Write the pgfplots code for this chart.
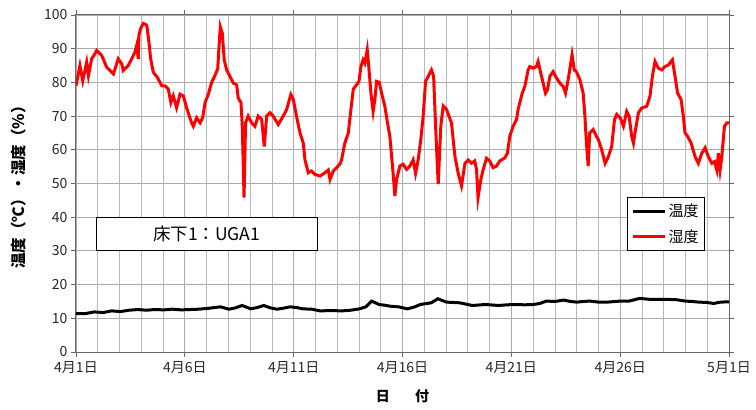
\documentclass[border=0pt]{standalone}
\usepackage{fontspec}
\setmainfont{Noto Sans CJK JP}
\usepackage{pgfplots}
\pgfplotsset{compat=1.18}
\begin{document}
\begin{tikzpicture}
\begin{axis}[
  name=ax,
  scale only axis, width=653pt, height=337pt,
  xmin=0, xmax=30, ymin=0, ymax=100,
  xtick={0,5,...,30},
  xticklabels={4月1日,4月6日,4月11日,4月16日,4月21日,4月26日,5月1日},
  minor xtick={0,1,...,30},
  ytick={0,10,...,100},
  grid=both,
  major grid style={gray!65, line width=0.9pt},
  minor grid style={gray!55, line width=0.7pt},
  axis line style={gray!80!black, line width=1pt},
  tick style={gray!80!black, line width=0.9pt},
  tick align=outside,
  major tick length=5pt, minor tick length=0pt,
  ticklabel style={font=\fontsize{14}{16}\selectfont, text=black!85},
  xticklabel style={yshift=-1pt},
  /pgf/number format/assume math mode=true,
  xlabel={日\hspace{1.8em}付},
  ylabel={温度（℃）・湿度（％）},
  every axis x label/.style={at={(rel axis cs:0.5,0)}, anchor=center, yshift=-44pt, font=\bfseries\fontsize{14}{16}\selectfont},
  every axis y label/.style={at={(rel axis cs:0,0.5)}, xshift=-57pt, rotate=90, anchor=center, font=\bfseries\fontsize{15.5}{17}\selectfont},
  legend style={at={(rel axis cs:0.844,0.46)}, anchor=north west, draw=black, line width=0.8pt,
    font=\fontsize{15}{17}\selectfont, row sep=7pt, inner xsep=4pt, inner ysep=5pt},
  legend cell align=left,
  legend image code/.code={\draw[#1, line width=3pt] (0pt,0pt) -- (32pt,0pt);},
]
% 温度
\addplot[black, line width=3pt] coordinates {
(0,11.4) (0.44,11.4) (0.84,11.9) (1.24,11.7) (1.64,12.2) (2.04,12.0) (2.44,12.4) (2.84,12.6) (3.23,12.4)
(3.63,12.6) (4.03,12.5) (4.43,12.7) (4.83,12.5) (5.23,12.6) (5.63,12.7) (6.13,13.0) (6.63,13.4) (7.03,12.7)
(7.33,13.1) (7.63,13.8) (8.03,12.8) (8.33,13.2) (8.63,13.8) (8.93,13.1) (9.23,12.7) (9.53,13.0) (9.83,13.4)
(10.13,13.2) (10.43,12.8) (10.83,12.7) (11.22,12.2) (11.72,12.3) (12.22,12.2) (12.62,12.4) (13.02,12.8)
(13.32,13.4) (13.58,15.1) (13.92,14.1) (14.17,13.9) (14.42,13.6) (14.82,13.4) (15.22,12.8) (15.52,13.3)
(15.82,14.1) (16.32,14.6) (16.62,15.8) (17.02,14.8) (17.32,14.7) (17.62,14.6) (17.92,14.2) (18.21,13.8)
(18.81,14.1) (19.41,13.8) (19.81,14.0) (20.21,14.1) (20.61,14.0) (21.01,14.1) (21.31,14.4) (21.61,15.1)
(22.01,15.0) (22.41,15.4) (22.71,15.0) (23.01,14.8) (23.31,15.0) (23.61,15.1) (24.01,14.8) (24.41,14.8)
(25.0,15.1) (25.4,15.1) (25.9,15.9) (26.4,15.6) (27.2,15.6) (27.6,15.5) (28.0,15.1) (28.3,15.0) (28.6,14.8)
(29.0,14.7) (29.3,14.4) (29.6,14.8) (30,14.9)
};
\addlegendentry{温度}
% 湿度
\addplot[red, line width=3pt] coordinates {
(0,79) (0.18,85) (0.31,80.5) (0.49,86) (0.57,82) (0.72,87) (0.87,88.5) (0.95,89.5) (1.18,88) (1.41,84.5)
(1.64,83) (1.72,82.5) (1.94,87) (2.10,85.5) (2.17,83.5) (2.40,85) (2.56,87) (2.71,89) (2.79,91) (2.86,87)
(2.89,94) (2.97,96) (3.09,97.5) (3.25,97) (3.35,92) (3.43,87) (3.55,83) (3.74,81.5) (3.94,79) (4.09,79)
(4.24,78) (4.36,74) (4.47,76) (4.62,72.5) (4.78,76.5) (4.93,76) (5.08,72.5) (5.31,68) (5.39,67) (5.54,69.5)
(5.70,68) (5.82,69.5) (5.93,74) (6.08,76.5) (6.23,80) (6.38,82) (6.51,84) (6.57,90.6) (6.63,96.5)
(6.72,94.6) (6.81,86.7) (6.92,83.7) (7.07,81.8) (7.23,79.8) (7.38,79.3) (7.45,75.4) (7.58,74) (7.64,67)
(7.72,45.8) (7.79,68) (7.91,70) (8.07,68) (8.22,67) (8.37,70) (8.53,69) (8.65,61) (8.76,70) (8.91,71)
(9.06,70) (9.29,67.5) (9.52,70) (9.68,72) (9.87,76.4) (9.98,75) (10.13,70) (10.29,65) (10.44,62)
(10.52,57) (10.67,53.2) (10.82,53.7) (10.98,52.7) (11.21,52.2) (11.44,53.2) (11.59,54) (11.67,51.2)
(11.82,53.7) (11.97,54.7) (12.13,55.8) (12.20,57) (12.35,62) (12.51,65) (12.63,72) (12.74,78) (12.89,79.3)
(13.0,80.3) (13.09,84.7) (13.19,86.7) (13.27,85.7) (13.38,89.7) (13.45,84.7) (13.55,76.8) (13.65,71.4)
(13.73,75) (13.81,80.3) (13.93,80) (14.04,76.8) (14.19,72.9) (14.31,68) (14.42,64) (14.50,58) (14.57,53)
(14.65,46.3) (14.73,51.2) (14.88,55.2) (15.03,55.7) (15.19,54.2) (15.34,55.2) (15.49,57) (15.60,53)
(15.72,57) (15.84,63) (15.95,70) (16.06,80.3) (16.18,81.8) (16.33,83.7) (16.43,81.8) (16.52,67)
(16.64,49.8) (16.76,67) (16.87,73) (17.02,72) (17.25,68) (17.41,58) (17.56,53) (17.71,49.3) (17.87,56)
(18.02,57) (18.17,56) (18.32,56.7) (18.40,54.2) (18.47,45.8) (18.60,51.2) (18.70,54) (18.86,57.5)
(19.01,56.7) (19.16,54.7) (19.32,55.2) (19.47,56.7) (19.70,57.6) (19.82,59) (19.93,64) (20.08,67)
(20.24,69) (20.31,72) (20.39,74) (20.50,76.8) (20.62,78.8) (20.77,83.7) (20.85,84.7) (21.00,84.2)
(21.15,84.7) (21.23,86.2) (21.35,82.8) (21.46,79.8) (21.57,76.8) (21.66,77.8) (21.77,81.8) (21.92,83.2)
(22.03,81.8) (22.23,79.8) (22.38,78.8) (22.49,76.8) (22.61,80.8) (22.73,85.7) (22.79,88.2) (22.89,83.7)
(22.99,83.2) (23.15,80.8) (23.30,76.8) (23.38,70) (23.45,62) (23.53,55.2) (23.60,65) (23.76,66)
(23.91,64) (24.0,63) (24.15,60) (24.31,56) (24.46,58) (24.61,61) (24.74,69) (24.84,70.5) (25.0,69.5)
(25.15,67) (25.30,71.4) (25.41,70) (25.53,64) (25.61,62) (25.68,65) (25.84,71) (25.99,72.4) (26.22,72.9)
(26.37,75.9) (26.48,81.8) (26.60,86.2) (26.76,84.2) (26.91,83.7) (27.06,84.7) (27.22,85.2) (27.40,86.7)
(27.52,81.8) (27.64,76.8) (27.80,74.9) (27.90,70) (27.98,65) (28.10,64) (28.26,62) (28.44,58) (28.59,56)
(28.75,59) (28.90,60.6) (29.05,58) (29.21,56) (29.33,56.5) (29.44,54) (29.51,59) (29.59,54) (29.67,58)
(29.79,67) (29.90,68) (30,68)
};
\addlegendentry{湿度}
\draw[black, fill=white, line width=0.8pt] (axis cs:0.92,30) rectangle (axis cs:11.07,40);
\node[font=\fontsize{17.5}{19}\selectfont] at (axis cs:6,35) {床下1：UGA1};
\end{axis}
\pgfresetboundingbox
\path[use as bounding box] (ax.south west) ++(-76pt,-58pt) rectangle ([xshift=27pt,yshift=15pt]ax.north east);
\end{tikzpicture}
\end{document}
